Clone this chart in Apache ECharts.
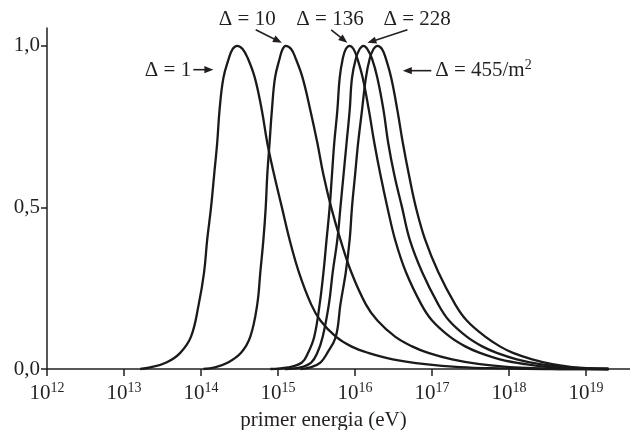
<!DOCTYPE html>
<html><head><meta charset="utf-8">
<script src="https://cdn.jsdelivr.net/npm/echarts@6/dist/echarts.min.js"></script>
<style>html,body{margin:0;padding:0;background:#fff}#c{width:630px;height:430px}</style>
</head><body><div id="c"></div>
<script>
// x values are log10(E / eV)
const xTicks = [12, 13, 14, 15, 16, 17, 18, 19];
const yTicks = [0, 0.5, 1.0];
const seriesNames = ['Δ = 1', 'Δ = 10', 'Δ = 136', 'Δ = 228', 'Δ = 455/m²'];

const d1 = [[13.21,0],[13.34,0.005],[13.55,0.02],[13.73,0.05],[13.87,0.1],[13.97,0.2],[14.04,0.3],[14.08,0.4],[14.13,0.5],[14.17,0.6],[14.21,0.7],[14.24,0.8],[14.29,0.9],[14.36,0.96],[14.41,0.99],[14.47,1.0],
  [14.54,0.99],[14.61,0.96],[14.70,0.9],[14.79,0.8],[14.86,0.7],[14.95,0.6],[15.05,0.5],[15.15,0.4],[15.27,0.3],[15.43,0.2],[15.55,0.15],[15.75,0.1],[15.95,0.07],[16.17,0.05],[16.49,0.03],[16.91,0.015],[17.36,0.006],[17.88,0.002],[18.47,0],[19.29,0]];
const d10 = [[14.03,0],[14.18,0.005],[14.35,0.02],[14.52,0.05],[14.64,0.1],[14.73,0.2],[14.77,0.3],[14.81,0.4],[14.84,0.5],[14.86,0.6],[14.89,0.7],[14.92,0.8],[14.96,0.9],[15.02,0.96],[15.06,0.99],[15.10,1.0],
  [15.17,0.99],[15.23,0.96],[15.32,0.9],[15.42,0.8],[15.51,0.7],[15.59,0.6],[15.69,0.5],[15.81,0.4],[15.95,0.3],[16.14,0.2],[16.29,0.15],[16.52,0.1],[16.74,0.07],[16.95,0.05],[17.26,0.03],[17.62,0.015],[18.01,0.006],[18.40,0.002],[18.79,0],[19.29,0]];
const d136 = [[14.90,0],[15.13,0.005],[15.31,0.02],[15.39,0.05],[15.47,0.1],[15.54,0.2],[15.59,0.3],[15.63,0.4],[15.67,0.5],[15.70,0.6],[15.73,0.7],[15.77,0.8],[15.80,0.9],[15.84,0.96],[15.88,0.99],[15.93,1.0],
  [15.98,0.99],[16.03,0.96],[16.10,0.9],[16.18,0.8],[16.25,0.7],[16.33,0.6],[16.42,0.5],[16.52,0.4],[16.66,0.3],[16.86,0.2],[17.00,0.15],[17.23,0.1],[17.43,0.07],[17.62,0.05],[17.88,0.03],[18.21,0.015],[18.53,0.006],[18.86,0.002],[19.18,0],[19.29,0]];
const d228 = [[15.09,0],[15.29,0.005],[15.43,0.02],[15.51,0.05],[15.58,0.1],[15.66,0.2],[15.71,0.3],[15.77,0.4],[15.81,0.5],[15.85,0.6],[15.89,0.7],[15.93,0.8],[15.96,0.9],[16.01,0.96],[16.06,0.99],[16.11,1.0],
  [16.16,0.99],[16.22,0.96],[16.29,0.9],[16.37,0.8],[16.43,0.7],[16.51,0.6],[16.61,0.5],[16.71,0.4],[16.87,0.3],[17.08,0.2],[17.22,0.15],[17.45,0.1],[17.65,0.07],[17.84,0.05],[18.10,0.03],[18.40,0.015],[18.70,0.006],[18.99,0.002],[19.25,0],[19.29,0]];
const d455 = [[15.29,0],[15.42,0.005],[15.55,0.02],[15.64,0.05],[15.75,0.1],[15.81,0.2],[15.88,0.3],[15.93,0.4],[15.96,0.5],[16.00,0.6],[16.04,0.7],[16.09,0.8],[16.14,0.9],[16.19,0.96],[16.24,0.99],[16.29,1.0],
  [16.35,0.99],[16.40,0.96],[16.47,0.9],[16.55,0.8],[16.62,0.7],[16.70,0.6],[16.79,0.5],[16.91,0.4],[17.08,0.3],[17.30,0.2],[17.45,0.15],[17.69,0.1],[17.88,0.07],[18.05,0.05],[18.30,0.03],[18.56,0.015],[18.82,0.006],[19.08,0.002],[19.29,0]];
const allData = [d1, d10, d136, d228, d455];

// annotation placement in data coordinates
const annoText = [[13.27,0.923,'left'],[14.60,1.08,'center'],[15.675,1.08,'center'],[16.805,1.08,'center'],[17.04,0.923,'left']];
const annoArrow = [[[13.90,0.926],[14.16,0.926]],[[14.71,1.0495],[15.05,1.009]],[[15.69,1.0495],[15.90,1.009]],[[16.68,1.0495],[16.16,1.009]],[[16.99,0.923],[16.62,0.923]]];

const FONT = '"Liberation Serif", "Times New Roman", serif';
const INK = '#231f20';
const chart = echarts.init(document.getElementById('c'), null, {renderer: 'canvas'});

chart.setOption({
  animation: false,
  backgroundColor: '#fff',
  grid: {left: 47, right: 0, top: 28, bottom: 61, containLabel: false, outerBoundsMode: 'none'},
  xAxis: {
    type: 'value', min: 12, max: 19.57, interval: 1,
    name: 'primer energia (eV)', nameLocation: 'middle', nameGap: 41,
    nameTextStyle: {fontFamily: FONT, fontSize: 21, color: INK, padding: [0, 30, 0, 0]},
    axisLine: {show: true, onZero: false, lineStyle: {color: INK, width: 1.5}},
    axisTick: {show: true, length: 7, inside: false, customValues: xTicks, lineStyle: {color: INK, width: 1.5}},
    axisLabel: {
      customValues: xTicks, margin: 12, fontFamily: FONT, color: INK,
      formatter: v => '{b|10}{s|' + Math.round(v) + '}',
      rich: {b: {fontFamily: FONT, fontSize: 21, color: INK}, s: {fontFamily: FONT, fontSize: 14, color: INK, padding: [0, 0, 11, 0]}}
    },
    splitLine: {show: false}
  },
  yAxis: {
    type: 'value', min: 0, max: 1.055, interval: 0.5,
    axisLine: {show: true, lineStyle: {color: INK, width: 1.5}},
    axisTick: {show: true, length: 6, customValues: yTicks, lineStyle: {color: INK, width: 1.5}},
    axisLabel: {customValues: yTicks, margin: 7, fontFamily: FONT, fontSize: 21, color: INK,
      formatter: v => v.toFixed(1).replace('.', ',')},
    splitLine: {show: false}
  },
  series: allData.map((d, i) => ({
    name: seriesNames[i], type: 'line', data: d, smooth: 0.4, showSymbol: false, clip: false,
    lineStyle: {color: '#1a1a1a', width: 2.3}, z: 3
  }))
});

function px(p) { return chart.convertToPixel({gridIndex: 0}, p); }
const graphics = [];
annoText.forEach((a, i) => {
  const p = px([a[0], a[1]]);
  const isLast = i === 4;
  graphics.push({
    type: 'text', x: p[0], y: p[1], z: 10,
    style: isLast ? {
      text: '{a|Δ = 455/m}{s|2}', align: a[2], verticalAlign: 'middle',
      rich: {a: {fontFamily: FONT, fontSize: 21, fill: INK}, s: {fontFamily: FONT, fontSize: 14, fill: INK, padding: [0,0,11,0]}}
    } : {text: seriesNames[i], fontFamily: FONT, fontSize: 21, fill: INK, align: a[2], verticalAlign: 'middle'}
  });
});
annoArrow.forEach(ar => {
  const s = px(ar[0]), e = px(ar[1]);
  const dx = e[0] - s[0], dy = e[1] - s[1];
  const L = Math.hypot(dx, dy), ux = dx / L, uy = dy / L;
  const hl = 9, hw = 3.6;
  const bx = e[0] - ux * hl, by = e[1] - uy * hl;
  graphics.push({type: 'line', z: 10, shape: {x1: s[0], y1: s[1], x2: bx + ux * 2, y2: by + uy * 2}, style: {stroke: INK, lineWidth: 1.6}});
  graphics.push({type: 'polygon', z: 10, shape: {points: [[e[0], e[1]], [bx - uy * hw, by + ux * hw], [bx + uy * hw, by - ux * hw]]}, style: {fill: INK}});
});
chart.setOption({graphic: graphics});
</script>
</body></html>
